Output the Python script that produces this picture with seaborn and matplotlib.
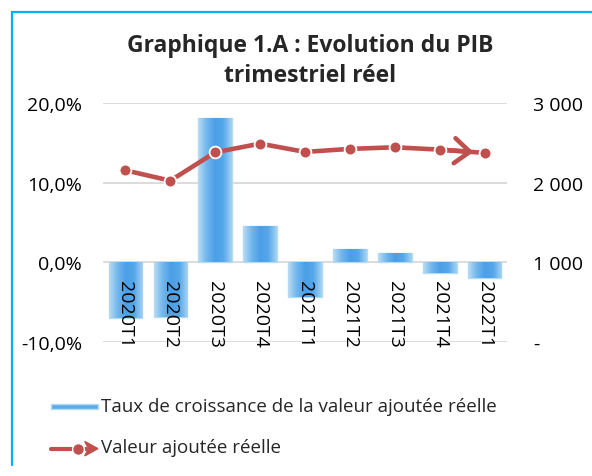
import numpy as np
import pandas as pd
import matplotlib
matplotlib.use("Agg")
import matplotlib.pyplot as plt
import seaborn as sns
from matplotlib.patches import Rectangle, Polygon
from matplotlib.lines import Line2D
from matplotlib.legend_handler import HandlerBase
from matplotlib.colors import LinearSegmentedColormap

# ---- data ----
categories = ["2020T1", "2020T2", "2020T3", "2020T4", "2021T1",
              "2021T2", "2021T3", "2021T4", "2022T1"]
growth = [-7.0, -6.8, 18.1, 4.6, -4.4, 1.7, 1.2, -1.4, -2.0]
value_added = [2155, 2025, 2381, 2490, 2386, 2424, 2444, 2415, 2374]
left_ticks = [-10, 0, 10, 20]
left_labels = ["-10,0%", "0,0%", "10,0%", "20,0%"]
right_ticks = [0, 1000, 2000, 3000]
right_labels = ["-", "1 000", "2 000", "3 000"]
title = "Graphique 1.A : Evolution du PIB\ntrimestriel réel"
bar_label = "Taux de croissance de la valeur ajoutée réelle"
line_label = "Valeur ajoutée réelle"

BAR = "#5caceb"
BAR_EDGE = "#b3dcf5"
RED = "#c0504d"
FS_TICK = 14
FS_LEG = 13.5
FONT = ['Open Sans', 'DejaVu Sans']

sns.set_theme(style="white")
plt.rcParams['font.family'] = FONT

fig = plt.figure(figsize=(5.92, 4.77), dpi=100)
ax = fig.add_axes([103/592, 1-343/477, 404/592, 239/477])

df = pd.DataFrame({"cat": categories, "growth": growth, "va": value_added})
sns.barplot(data=df, x="cat", y="growth", color=BAR, saturation=1, width=0.75,
            edgecolor=BAR_EDGE, linewidth=1.0, ax=ax, zorder=2)

# horizontal shading inside each bar (clipped to the bar drawn by seaborn)
shade = LinearSegmentedColormap.from_list(
    "shade", ["#b8dcf4", "#72b7ec", "#4c9fe6", "#56a7ea", "#a6d2f2"])
grad = np.linspace(0, 1, 64).reshape(1, -1)
for p in list(ax.patches):
    x0, y0 = p.get_x(), p.get_y()
    w, h = p.get_width(), p.get_height()
    im = ax.imshow(grad, cmap=shade, aspect='auto',
                   extent=[x0, x0 + w, min(y0, y0 + h), max(y0, y0 + h)],
                   zorder=2.1, interpolation='bilinear')
    im.set_clip_path(p)

ax.set_ylim(-10, 20)
ax.set_xlim(-0.5, len(categories) - 0.5)
ax.set_yticks(left_ticks, left_labels)
ax.tick_params(axis='y', length=0, pad=15, labelsize=FS_TICK, colors='black')
ax.set_xticks([])
ax.set_xlabel("")
ax.set_ylabel("")
ax.grid(axis='y', color='#d9d9d9', lw=1.3)
ax.set_axisbelow(True)
for s in ax.spines.values():
    s.set_visible(False)

for i, c in enumerate(categories):
    ax.annotate(c, xy=(i, 0), xytext=(0, -13), textcoords='offset points',
                rotation=-90, ha='center', va='top', fontsize=FS_TICK,
                color='black', zorder=5)

ax2 = ax.twinx()
sns.lineplot(x=np.arange(len(categories)), y=value_added, ax=ax2, color=RED,
             lw=3.3, marker='o', markersize=8.5, markeredgecolor='white',
             markeredgewidth=1.3, zorder=4)
ax2.annotate("", xy=(len(categories) - 1, value_added[-1]),
             xytext=(len(categories) - 2, value_added[-2]),
             arrowprops=dict(arrowstyle='->,head_length=0.55,head_width=0.45',
                             mutation_scale=20, color=RED, lw=3.3,
                             shrinkA=0, shrinkB=8), zorder=3)
ax2.set_ylim(0, 3000)
ax2.set_yticks(right_ticks, right_labels)
ax2.tick_params(axis='y', length=0, pad=19, labelsize=FS_TICK, colors='black')
ax2.set_ylabel("")
ax2.grid(False)
for s in ax2.spines.values():
    s.set_visible(False)
ax.set_xlim(-0.5, len(categories) - 0.5)

fig.text(310/592, 1-61/477, title, ha='center', va='center', fontsize=16.5,
         fontweight='bold', linespacing=1.35)


class BarHandler(HandlerBase):
    def create_artists(self, legend, orig, xd, yd, w, h, fs, trans):
        r = Rectangle((xd, yd + h*0.12), w, h*0.45, facecolor=BAR,
                      edgecolor=BAR_EDGE, lw=1, transform=trans)
        return [r]


class ArrowLineHandler(HandlerBase):
    def create_artists(self, legend, orig, xd, yd, w, h, fs, trans):
        y = yd + h/2 - 2
        ln = Line2D([xd, xd + w*0.75], [y, y], color=RED, lw=3, transform=trans)
        mk = Line2D([xd + w*0.58], [y], marker='o', ms=8.5, color=RED,
                    mec='white', mew=1, transform=trans)
        tri = Polygon([[xd + w*0.72, y + h*0.55], [xd + w, y],
                       [xd + w*0.72, y - h*0.55], [xd + w*0.8, y]],
                      closed=True, facecolor=RED, edgecolor=RED, transform=trans)
        return [ln, mk, tri]


h_bar = Rectangle((0, 0), 1, 1)
h_line = Line2D([], [])
fig.legend([h_bar, h_line], [bar_label, line_label],
           handler_map={Rectangle: BarHandler(), Line2D: ArrowLineHandler()},
           loc='upper left', bbox_to_anchor=(51/592, 1-398/477), frameon=False,
           fontsize=FS_LEG, handlelength=2.5, handletextpad=0.15,
           labelspacing=1.25, borderpad=0, borderaxespad=0)

fig.add_artist(Line2D([12/592, 12/592], [1-13/477, 1-466/477],
                      transform=fig.transFigure, color='#00b0f0', lw=1.6))
fig.add_artist(Line2D([12/592, 1.0], [1-13/477, 1-13/477],
                      transform=fig.transFigure, color='#00b0f0', lw=1.6))

fig.savefig("out.png", dpi=100)
